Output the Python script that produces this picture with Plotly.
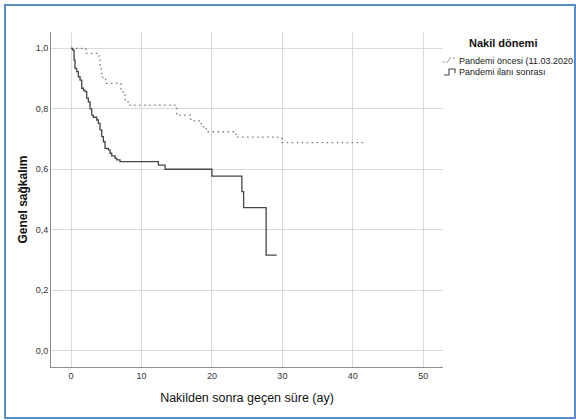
import plotly.graph_objects as go

# Kaplan-Meier estimates (months after transplant, overall survival)
pre_time = [0, 2.1, 4.0, 4.1, 4.3, 4.5, 4.9, 7.1, 7.4, 7.7, 8.1, 15.0, 17.0, 18.5,
            19.2, 23.4, 29.9, 41.8]
pre_surv = [1.0, 0.983, 0.961, 0.945, 0.917, 0.900, 0.884, 0.862, 0.845, 0.829, 0.812,
            0.779, 0.760, 0.741, 0.724, 0.706, 0.688, 0.688]

post_time = [0, 0.09, 0.24, 0.43, 0.57, 0.81, 1.04, 1.28, 1.52, 1.75, 1.99, 2.23, 2.46,
             2.70, 2.94, 3.17, 3.65, 3.88, 4.12, 4.36, 4.59, 4.83, 5.30, 5.54, 5.78,
             6.25, 6.49, 6.96, 12.4, 13.35, 20.0, 24.25, 24.5, 27.7, 29.2]
post_surv = [1.0, 1.0, 0.994, 0.961, 0.934, 0.923, 0.906, 0.895, 0.868, 0.862, 0.857,
             0.835, 0.823, 0.800, 0.779, 0.772, 0.763, 0.752, 0.730, 0.708, 0.691,
             0.669, 0.664, 0.653, 0.644, 0.636, 0.631, 0.625, 0.614, 0.600, 0.577,
             0.526, 0.473, 0.316, 0.316]

group_names = ["Pandemi öncesi (11.03.2020", "Pandemi ilanı sonrası"]
legend_title = "Nakil dönemi"
x_ticks = [0, 10, 20, 30, 40, 50]
y_ticks = [0.0, 0.2, 0.4, 0.6, 0.8, 1.0]
y_tick_text = ["0,0", "0,2", "0,4", "0,6", "0,8", "1,0"]

W, H = 576, 420
ML, MR, MT, MB = 51, 133, 32, 53
PW, PH = W - ML - MR, H - MT - MB

SANS = "Liberation Sans, Arial, sans-serif"


def px(x):
    return (x - ML) / PW


def py(y):
    return (H - MB - y) / PH


fig = go.Figure()
fig.add_trace(go.Scatter(
    x=pre_time, y=pre_surv, mode="lines", line_shape="hv", name=group_names[0],
    line=dict(color="#757575", width=1.3, dash="1.5px,3.5px"), showlegend=False,
))
fig.add_trace(go.Scatter(
    x=post_time, y=post_surv, mode="lines", line_shape="hv", name=group_names[1],
    line=dict(color="#454545", width=1.3), showlegend=False,
))

shapes = []
# outer frame
shapes.append(dict(type="rect", xref="paper", yref="paper",
                   x0=px(5), x1=px(575), y0=py(418), y1=py(5),
                   line=dict(color="#5a8ec6", width=2), fillcolor="rgba(0,0,0,0)"))

# legend key glyphs
ly1, ly2 = 61, 72
shapes.append(dict(type="path", xref="paper", yref="paper",
                   path=f"M{px(443)},{py(ly1 + 1)} L{px(449)},{py(ly1 + 1)} "
                        f"L{px(449)},{py(ly1 - 3)} L{px(455)},{py(ly1 - 3)}",
                   line=dict(color="#757575", width=1.1, dash="1.5px,2px")))
shapes.append(dict(type="path", xref="paper", yref="paper",
                   path=f"M{px(444)},{py(ly2 + 3)} L{px(449)},{py(ly2 + 3)} "
                        f"L{px(449)},{py(ly2 - 3)} L{px(455)},{py(ly2 - 3)} L{px(455)},{py(ly2 + 1)}",
                   line=dict(color="#454545", width=1.1)))

annotations = [
    dict(text=f"<b>{legend_title}</b>", x=px(503), y=py(43), xref="paper", yref="paper",
         showarrow=False, xanchor="center", yanchor="middle",
         font=dict(family=SANS, size=11, color="#111")),
    dict(text=group_names[0], x=px(456.5), y=py(ly1), xref="paper", yref="paper",
         showarrow=False, xanchor="left", yanchor="middle",
         font=dict(family=SANS, size=9, color="#222")),
    dict(text=group_names[1], x=px(456.5), y=py(ly2), xref="paper", yref="paper",
         showarrow=False, xanchor="left", yanchor="middle",
         font=dict(family=SANS, size=9, color="#222")),
]

fig.update_layout(
    width=W, height=H,
    margin=dict(l=ML, r=MR, t=MT, b=MB, pad=0),
    paper_bgcolor="white", plot_bgcolor="white",
    shapes=shapes, annotations=annotations,
    showlegend=False,
)
fig.update_xaxes(
    range=[-2.84, 52.8], tickvals=x_ticks, showgrid=True, gridcolor="#d9d9d9", gridwidth=1,
    zeroline=False, showline=True, linecolor="#8c8c8c", linewidth=1, ticks="",
    tickfont=dict(family=SANS, size=9, color="#333"),
    title=dict(text="Nakilden sonra geçen süre (ay)", standoff=13,
               font=dict(family=SANS, size=12.5, color="#111")),
    automargin=False,
)
fig.update_yaxes(
    range=[-0.054, 1.054], tickvals=y_ticks, ticktext=y_tick_text, showgrid=True,
    gridcolor="#d9d9d9", gridwidth=1, zeroline=False, showline=True, linecolor="#8c8c8c",
    linewidth=1, ticks="", tickfont=dict(family=SANS, size=9, color="#333"),
    title=dict(text="<b>Genel sağkalım</b>", standoff=5,
               font=dict(family=SANS, size=12, color="#111")),
    automargin=False,
)

fig.write_html("out.html")
